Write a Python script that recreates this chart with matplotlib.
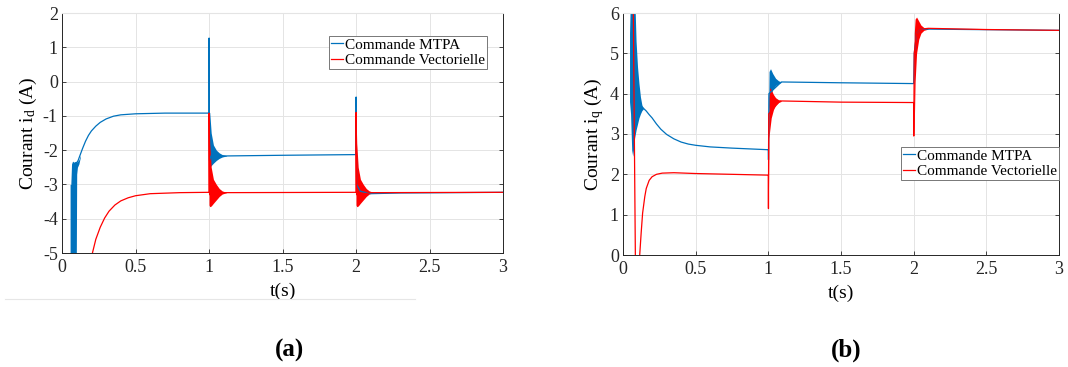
import matplotlib
matplotlib.use("Agg")
import matplotlib.pyplot as plt
from matplotlib.lines import Line2D

plt.rcParams["font.family"] = ["Liberation Serif", "DejaVu Serif"]
plt.rcParams["mathtext.fontset"] = "custom"
plt.rcParams["mathtext.rm"] = "Liberation Serif"
plt.rcParams["mathtext.it"] = "Liberation Serif:italic"

BLUE = "#0072BD"
RED = "#FF0000"

# ---------------- (a) courant id ----------------
# Commande MTPA, ligne moyenne
t_id_mtpa = [0.095, 0.11, 0.12, 0.14, 0.16, 0.18, 0.20, 0.23, 0.26, 0.30, 0.35, 0.40, 0.50,
             0.70, 1.0, 1.0008, 1.003, 1.02, 1.05, 1.10, 1.5, 2.0, 2.0008, 2.004, 2.03,
             2.10, 2.30, 3.0]
id_mtpa = [-2.4, -2.3, -2.18, -1.95, -1.74, -1.57, -1.44, -1.30, -1.19, -1.09, -1.01, -0.97, -0.94,
           -0.92, -0.92, 1.27, -2.3, -2.1, -2.15, -2.17, -2.15, -2.13, -0.45, -3.0, -3.2,
           -3.27, -3.25, -3.23]
# enveloppes des oscillations MTPA
t_id_mtpa_osc0 = [0.055, 0.06, 0.065, 0.072, 0.08, 0.09, 0.097, 0.10, 0.105, 0.115, 0.125]
id_mtpa_up0 = [-3.0, -3.0, -2.4, -2.32, -2.35, -2.33, -2.33, -2.35, -2.33, -2.28, -2.15]
id_mtpa_lo0 = [-5.5, -5.5, -5.5, -5.5, -5.5, -5.5, -5.5, -2.7, -2.5, -2.4, -2.2]
t_id_mtpa_osc1 = [1.0, 1.005, 1.015, 1.03, 1.05, 1.07, 1.09, 1.12]
id_mtpa_up1 = [-0.9, -0.9, -1.5, -1.85, -2.0, -2.08, -2.13, -2.16]
id_mtpa_lo1 = [-2.5, -2.5, -2.45, -2.38, -2.3, -2.24, -2.2, -2.17]

# Commande vectorielle
t_id_vect = [0.19, 0.207, 0.23, 0.26, 0.29, 0.32, 0.36, 0.40, 0.45, 0.50, 0.60, 0.80, 1.0,
             1.0008, 1.004, 1.08, 2.0, 2.0008, 2.004, 2.10, 3.0]
id_vect = [-5.4, -5.0, -4.6, -4.25, -3.98, -3.78, -3.60, -3.48, -3.39, -3.33, -3.27, -3.24, -3.23,
           -0.92, -3.3, -3.24, -3.23, -0.90, -3.3, -3.24, -3.23]
t_id_vect_osc1 = [1.0, 1.005, 1.015, 1.03, 1.05, 1.07, 1.09, 1.12]
id_vect_up1 = [-0.95, -1.8, -2.5, -2.85, -3.0, -3.12, -3.19, -3.23]
id_vect_lo1 = [-3.6, -3.65, -3.63, -3.55, -3.45, -3.35, -3.28, -3.24]
t_id_vect_osc2 = [2.0, 2.005, 2.015, 2.03, 2.05, 2.07, 2.09, 2.12]
id_vect_up2 = [-0.9, -1.8, -2.5, -2.85, -3.0, -3.12, -3.19, -3.23]
id_vect_lo2 = [-3.6, -3.65, -3.63, -3.55, -3.45, -3.35, -3.28, -3.24]

# ---------------- (b) courant iq ----------------
t_iq_mtpa = [0.14, 0.16, 0.18, 0.20, 0.23, 0.26, 0.30, 0.35, 0.40, 0.45, 0.50, 0.60, 0.75, 1.0,
             1.001, 1.004, 1.09, 1.5, 2.0, 2.004, 2.02, 2.05, 2.10, 3.0]
iq_mtpa = [3.64, 3.57, 3.48, 3.40, 3.25, 3.12, 2.99, 2.88, 2.80, 2.75, 2.72, 2.68, 2.65, 2.61,
           2.36, 4.0, 4.29, 4.27, 4.25, 5.0, 5.5, 5.6, 5.6, 5.57]
t_iq_mtpa_osc0 = [0.045, 0.052, 0.06, 0.067, 0.075, 0.08, 0.09, 0.10, 0.11, 0.12, 0.13, 0.14]
iq_mtpa_up0 = [5.5, 6.5, 6.5, 6.5, 6.5, 6.5, 5.3, 4.66, 4.25, 3.92, 3.72, 3.65]
iq_mtpa_lo0 = [3.8, 3.5, 2.6, 2.45, 2.7, 2.9, 3.1, 3.25, 3.4, 3.5, 3.58, 3.62]
t_iq_mtpa_osc1 = [1.0, 1.005, 1.015, 1.03, 1.05, 1.07, 1.09]
iq_mtpa_up1 = [3.0, 4.55, 4.62, 4.5, 4.38, 4.32, 4.29]
iq_mtpa_lo1 = [2.6, 3.6, 3.95, 4.1, 4.2, 4.25, 4.28]

t_iq_vect = [0.07, 0.078, 0.085, 0.09, 0.105, 0.115, 0.125, 0.135, 0.15, 0.16, 0.18, 0.20, 0.23,
             0.27, 0.35, 0.50, 0.75, 1.0, 1.0008, 1.003, 1.08, 1.5, 2.0, 2.0008, 2.004,
             2.02, 2.05, 2.10, 2.5, 3.0]
iq_vect = [6.5, 3.0, 0.0, -0.6, -0.6, 0.0, 0.55, 1.04, 1.45, 1.65, 1.85, 1.94, 2.0,
           2.03, 2.04, 2.02, 2.0, 1.98, 1.15, 3.5, 3.82, 3.79, 3.78, 2.95, 5.0,
           5.5, 5.6, 5.62, 5.59, 5.57]
t_iq_vect_osc1 = [1.0, 1.004, 1.01, 1.02, 1.035, 1.05, 1.07, 1.09]
iq_vect_up1 = [2.0, 3.9, 4.15, 4.1, 3.98, 3.9, 3.85, 3.82]
iq_vect_lo1 = [1.15, 2.9, 3.1, 3.4, 3.6, 3.72, 3.78, 3.81]
t_iq_vect_osc2 = [2.0, 2.004, 2.01, 2.02, 2.035, 2.05, 2.07, 2.10]
iq_vect_up2 = [4.0, 5.5, 5.85, 5.9, 5.8, 5.7, 5.64, 5.61]
iq_vect_lo2 = [2.95, 3.2, 4.3, 5.0, 5.35, 5.5, 5.57, 5.6]

labels = ["Commande MTPA", "Commande Vectorielle"]


def style_axes(ax, ylim, yticks):
    ax.set_xlim(0, 3)
    ax.set_ylim(*ylim)
    ax.set_xticks([0, 0.5, 1, 1.5, 2, 2.5, 3])
    ax.set_xticklabels(["0", "0.5", "1", "1.5", "2", "2.5", "3"])
    ax.set_yticks(yticks)
    ax.set_yticklabels([str(v) for v in yticks])
    ax.grid(True, color="#e4e4e4", linewidth=0.7)
    ax.set_axisbelow(True)
    ax.tick_params(direction="in", length=3, right=True, top=False, labelsize=13,
                   colors="#262626", width=0.6)
    ax.tick_params(axis="x", pad=4)
    ax.tick_params(axis="y", pad=3)
    for s in ["left", "bottom", "right"]:
        ax.spines[s].set_color("#262626")
        ax.spines[s].set_linewidth(0.7)
    ax.spines["top"].set_color("#e4e4e4")
    ax.set_xlabel("t(s)", fontsize=14, labelpad=5)


fig = plt.figure(figsize=(10.68, 3.67), dpi=100)

# ---- (a)
ax1 = fig.add_axes([62 / 1068, 114 / 367, 441 / 1068, 240 / 367])
ax1.fill_between(t_id_mtpa_osc0, id_mtpa_lo0, id_mtpa_up0, color=BLUE, lw=0)
ax1.fill_between(t_id_mtpa_osc1, id_mtpa_lo1, id_mtpa_up1, color=BLUE, lw=0)
ax1.plot(t_id_mtpa, id_mtpa, color=BLUE, lw=0.9, label=labels[0])
ax1.fill_between(t_id_vect_osc1, id_vect_lo1, id_vect_up1, color=RED, lw=0)
ax1.fill_between(t_id_vect_osc2, id_vect_lo2, id_vect_up2, color=RED, lw=0)
ax1.plot(t_id_vect, id_vect, color=RED, lw=0.9, label=labels[1])
style_axes(ax1, (-5, 2), [-5, -4, -3, -2, -1, 0, 1, 2])
ax1.set_ylabel(r"Courant i$_\mathrm{d}$ (A)", fontsize=14, labelpad=3)
leg1 = ax1.legend(loc="upper left", bbox_to_anchor=(0.605, 0.905), fontsize=11,
                  handlelength=0.8, handletextpad=0.1, borderpad=0.15, labelspacing=0.1,
                  borderaxespad=0, fancybox=False, framealpha=1)
leg1.get_frame().set_edgecolor("#777777")
leg1.get_frame().set_linewidth(0.7)

# ---- (b)
ax2 = fig.add_axes([623 / 1068, 112 / 367, 436 / 1068, 242 / 367])
ax2.fill_between(t_iq_mtpa_osc0, iq_mtpa_lo0, iq_mtpa_up0, color=BLUE, lw=0)
ax2.fill_between(t_iq_mtpa_osc1, iq_mtpa_lo1, iq_mtpa_up1, color=BLUE, lw=0)
ax2.plot(t_iq_mtpa, iq_mtpa, color=BLUE, lw=0.9, label=labels[0])
ax2.fill_between(t_iq_vect_osc1, iq_vect_lo1, iq_vect_up1, color=RED, lw=0)
ax2.fill_between(t_iq_vect_osc2, iq_vect_lo2, iq_vect_up2, color=RED, lw=0)
ax2.plot(t_iq_vect, iq_vect, color=RED, lw=0.9, label=labels[1])
style_axes(ax2, (0, 6), [0, 1, 2, 3, 4, 5, 6])
ax2.set_ylabel(r"Courant i$_\mathrm{q}$ (A)", fontsize=14, labelpad=3)
leg2 = ax2.legend(loc="upper right", bbox_to_anchor=(1.0, 0.447), fontsize=11,
                  handlelength=0.8, handletextpad=0.1, borderpad=0.15, labelspacing=0.1,
                  borderaxespad=0, fancybox=False, framealpha=1)
leg2.get_frame().set_edgecolor("#777777")
leg2.get_frame().set_linewidth(0.7)

# trait gris sous la figure (a)
fig.add_artist(Line2D([5 / 1068, 415 / 1068], [1 - 299 / 367] * 2, color="#e6e6e6", lw=0.8))

fig.text(289 / 1068, 1 - 350 / 367, "(a)", fontsize=18, fontweight="bold",
         ha="center", va="center")
fig.text(846 / 1068, 1 - 350 / 367, "(b)", fontsize=18, fontweight="bold",
         ha="center", va="center")

fig.savefig("out.png", dpi=100)
